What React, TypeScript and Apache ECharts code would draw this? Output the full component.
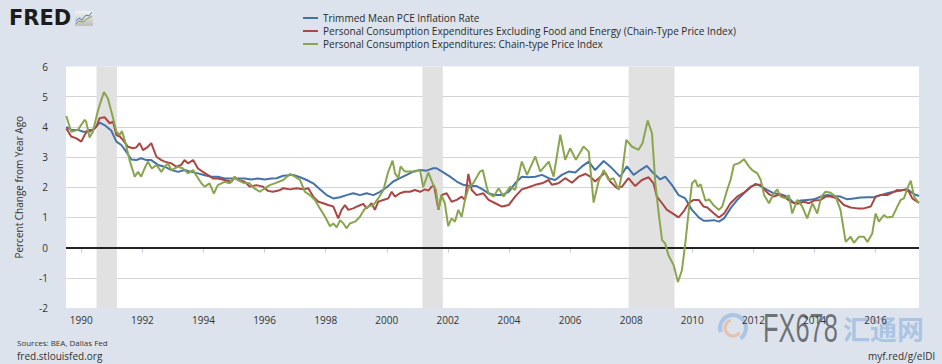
import React, { useEffect, useRef } from "react";
import * as echarts from "echarts";

const yearTicks = [1990, 1992, 1994, 1996, 1998, 2000, 2002, 2004, 2006, 2008, 2010, 2012, 2014, 2016];

const recessions: [number, number][] = [
  [1990.5, 1991.167],
  [2001.167, 2001.833],
  [2007.917, 2009.417],
];

const seriesNames = [
  "Trimmed Mean PCE Inflation Rate",
  "Personal Consumption Expenditures Excluding Food and Energy (Chain-Type Price Index)",
  "Personal Consumption Expenditures: Chain-type Price Index",
];

const trimmedMean: [number, number][] = [
  [1989.51, 4.0], [1989.67, 3.9], [1989.89, 3.9], [1990.06, 3.84], [1990.27, 3.84], [1990.44, 3.95],
  [1990.6, 4.14], [1990.76, 4.06], [1990.98, 3.88], [1991.15, 3.51], [1991.31, 3.4], [1991.47, 3.18],
  [1991.64, 2.92], [1991.8, 2.9], [1991.96, 2.96], [1992.13, 2.9], [1992.29, 2.9], [1992.51, 2.74],
  [1992.73, 2.68], [1992.95, 2.57], [1993.17, 2.51], [1993.38, 2.57], [1993.6, 2.51], [1993.82, 2.46],
  [1994.04, 2.4], [1994.26, 2.35], [1994.47, 2.35], [1994.69, 2.29], [1994.91, 2.29], [1995.13, 2.29],
  [1995.35, 2.29], [1995.57, 2.26], [1995.78, 2.29], [1996.0, 2.26], [1996.22, 2.29], [1996.39, 2.3],
  [1996.61, 2.38], [1996.94, 2.41], [1997.16, 2.33], [1997.38, 2.24], [1997.59, 2.13], [1997.81, 1.93],
  [1998.03, 1.74], [1998.25, 1.63], [1998.47, 1.67], [1998.68, 1.74], [1998.9, 1.8], [1999.12, 1.74],
  [1999.34, 1.8], [1999.56, 1.74], [1999.78, 1.85], [2000.0, 2.0], [2000.21, 2.19], [2000.43, 2.3],
  [2000.65, 2.41], [2000.87, 2.52], [2001.09, 2.57], [2001.3, 2.55], [2001.52, 2.63], [2001.63, 2.63],
  [2001.85, 2.49], [2002.07, 2.35], [2002.29, 2.19], [2002.5, 2.08], [2002.72, 2.04], [2002.94, 2.04],
  [2003.16, 1.91], [2003.33, 1.8], [2003.55, 1.74], [2003.77, 1.74], [2003.99, 1.85], [2004.2, 2.13],
  [2004.42, 2.35], [2004.64, 2.33], [2004.86, 2.35], [2005.08, 2.41], [2005.3, 2.3], [2005.51, 2.24],
  [2005.73, 2.41], [2005.95, 2.52], [2006.17, 2.49], [2006.39, 2.69], [2006.61, 2.85], [2006.82, 2.57],
  [2007.1, 2.87], [2007.31, 2.69], [2007.53, 2.46], [2007.64, 2.35], [2007.86, 2.69], [2008.08, 2.41],
  [2008.3, 2.57], [2008.51, 2.71], [2008.73, 2.46], [2008.95, 2.26], [2009.11, 2.35], [2009.33, 2.08],
  [2009.55, 1.74], [2009.77, 1.63], [2009.99, 1.25], [2010.21, 1.0], [2010.37, 0.89], [2010.49, 0.89],
  [2010.71, 0.91], [2010.87, 0.86], [2011.04, 0.97], [2011.25, 1.3], [2011.47, 1.58], [2011.69, 1.8],
  [2011.91, 2.0], [2012.07, 2.11], [2012.24, 2.04], [2012.45, 1.91], [2012.67, 1.8], [2012.89, 1.77],
  [2013.11, 1.69], [2013.33, 1.47], [2013.55, 1.56], [2013.76, 1.58], [2013.98, 1.6], [2014.2, 1.69],
  [2014.42, 1.74], [2014.64, 1.71], [2014.85, 1.69], [2015.07, 1.6], [2015.29, 1.63], [2015.51, 1.66],
  [2015.73, 1.67], [2015.95, 1.67], [2016.16, 1.74], [2016.38, 1.8], [2016.6, 1.85], [2016.82, 1.89],
  [2017.04, 1.93], [2017.26, 1.77], [2017.42, 1.71],
];

const corePce: [number, number][] = [
  [1989.51, 3.95], [1989.67, 3.68], [1989.84, 3.62], [1990.0, 3.51], [1990.11, 3.73], [1990.22, 3.9],
  [1990.38, 3.9], [1990.49, 4.0], [1990.6, 4.29], [1990.76, 4.32], [1990.93, 4.12], [1991.04, 4.17],
  [1991.15, 3.73], [1991.26, 3.68], [1991.36, 3.57], [1991.53, 3.34], [1991.69, 3.29], [1991.8, 3.32],
  [1991.91, 3.46], [1992.02, 3.23], [1992.18, 3.34], [1992.29, 3.46], [1992.46, 3.01], [1992.62, 2.9],
  [1992.73, 2.85], [1992.95, 2.79], [1993.11, 2.68], [1993.27, 2.74], [1993.38, 2.9], [1993.49, 2.79],
  [1993.66, 2.9], [1993.82, 2.62], [1993.98, 2.51], [1994.15, 2.4], [1994.31, 2.29], [1994.47, 2.29],
  [1994.69, 2.24], [1994.91, 2.18], [1995.02, 2.33], [1995.13, 2.24], [1995.35, 2.18], [1995.51, 2.02],
  [1995.73, 2.07], [1995.95, 2.02], [1996.11, 1.88], [1996.27, 1.85], [1996.49, 1.9], [1996.61, 1.97],
  [1996.83, 1.93], [1997.05, 1.97], [1997.27, 1.93], [1997.43, 1.97], [1997.59, 1.69], [1997.76, 1.52],
  [1997.92, 1.47], [1998.08, 1.41], [1998.25, 1.36], [1998.41, 0.97], [1998.52, 1.25], [1998.63, 1.41],
  [1998.74, 1.25], [1998.9, 1.3], [1999.07, 1.38], [1999.23, 1.45], [1999.34, 1.3], [1999.5, 1.47],
  [1999.61, 1.25], [1999.72, 1.52], [1999.89, 1.58], [2000.05, 1.63], [2000.16, 1.85], [2000.27, 1.69],
  [2000.43, 1.8], [2000.59, 1.85], [2000.76, 1.85], [2000.92, 1.91], [2001.09, 1.85], [2001.25, 1.93],
  [2001.36, 1.89], [2001.47, 2.02], [2001.55, 2.04], [2001.69, 1.25], [2001.79, 1.74], [2001.96, 1.8],
  [2002.12, 1.52], [2002.29, 1.58], [2002.45, 1.69], [2002.56, 1.58], [2002.67, 2.44], [2002.78, 1.91],
  [2002.94, 1.74], [2003.16, 1.8], [2003.33, 1.58], [2003.55, 1.47], [2003.77, 1.36], [2003.99, 1.41],
  [2004.2, 1.69], [2004.42, 1.93], [2004.64, 2.0], [2004.86, 2.08], [2005.08, 2.13], [2005.3, 2.24],
  [2005.4, 2.08], [2005.62, 2.13], [2005.84, 2.3], [2006.06, 2.15], [2006.28, 2.35], [2006.5, 2.44],
  [2006.66, 2.35], [2006.82, 2.19], [2006.99, 2.35], [2007.15, 2.49], [2007.31, 2.19], [2007.53, 1.97],
  [2007.7, 2.02], [2007.91, 2.3], [2008.13, 2.04], [2008.35, 2.24], [2008.57, 2.33], [2008.73, 2.13],
  [2008.84, 1.69], [2009.01, 1.47], [2009.17, 1.25], [2009.33, 1.15], [2009.55, 1.0], [2009.71, 1.19],
  [2009.88, 1.47], [2010.04, 1.58], [2010.21, 1.58], [2010.37, 1.36], [2010.49, 1.33], [2010.71, 1.13],
  [2010.87, 1.0], [2011.04, 1.13], [2011.25, 1.47], [2011.47, 1.69], [2011.69, 1.82], [2011.91, 2.02],
  [2012.07, 2.08], [2012.24, 2.08], [2012.35, 1.93], [2012.51, 1.77], [2012.67, 1.69], [2012.84, 1.76],
  [2013.0, 1.69], [2013.22, 1.52], [2013.44, 1.45], [2013.65, 1.52], [2013.82, 1.47], [2013.98, 1.56],
  [2014.2, 1.58], [2014.36, 1.69], [2014.53, 1.69], [2014.75, 1.63], [2014.96, 1.41], [2015.18, 1.33],
  [2015.4, 1.3], [2015.62, 1.3], [2015.84, 1.36], [2016.0, 1.69], [2016.16, 1.74], [2016.38, 1.74],
  [2016.6, 1.85], [2016.71, 1.91], [2016.82, 1.89], [2016.98, 1.93], [2017.09, 1.85], [2017.2, 1.63],
  [2017.36, 1.52], [2017.42, 1.5],
];

const headlinePce: [number, number][] = [
  [1989.51, 4.36], [1989.67, 3.84], [1989.89, 3.9], [1990.11, 4.23], [1990.16, 4.17], [1990.27, 3.65],
  [1990.38, 3.84], [1990.55, 4.56], [1990.74, 5.15], [1990.87, 4.95], [1991.04, 4.29], [1991.15, 3.84],
  [1991.26, 3.73], [1991.33, 3.86], [1991.42, 3.57], [1991.58, 2.9], [1991.75, 2.35], [1991.86, 2.51],
  [1991.96, 2.35], [1992.07, 2.62], [1992.18, 2.85], [1992.31, 2.62], [1992.46, 2.74], [1992.62, 2.51],
  [1992.73, 2.68], [1992.84, 2.79], [1992.95, 2.57], [1993.17, 2.68], [1993.33, 2.62], [1993.49, 2.46],
  [1993.66, 2.57], [1993.76, 2.4], [1993.93, 2.13], [1994.04, 2.02], [1994.2, 2.13], [1994.34, 1.79],
  [1994.47, 2.07], [1994.69, 2.18], [1994.86, 2.13], [1995.02, 2.35], [1995.13, 2.24], [1995.29, 2.15],
  [1995.51, 2.13], [1995.67, 1.96], [1995.84, 1.85], [1996.0, 1.96], [1996.17, 2.07], [1996.33, 2.13],
  [1996.61, 2.24], [1996.83, 2.44], [1996.99, 2.35], [1997.16, 2.24], [1997.32, 1.85], [1997.48, 1.74],
  [1997.65, 1.58], [1997.81, 1.3], [1997.98, 1.02], [1998.14, 0.71], [1998.25, 0.8], [1998.36, 0.67],
  [1998.47, 0.91], [1998.58, 0.8], [1998.68, 0.64], [1998.79, 0.8], [1998.96, 0.86], [1999.12, 1.02],
  [1999.25, 1.25], [1999.39, 1.36], [1999.56, 1.41], [1999.72, 1.63], [1999.89, 1.91], [2000.05, 2.52],
  [2000.19, 2.88], [2000.27, 2.46], [2000.38, 2.3], [2000.45, 2.69], [2000.59, 2.52], [2000.76, 2.52],
  [2000.92, 2.52], [2001.09, 2.57], [2001.19, 2.0], [2001.36, 2.49], [2001.5, 2.13], [2001.61, 1.91],
  [2001.69, 1.25], [2001.79, 1.74], [2001.9, 1.47], [2002.01, 0.71], [2002.12, 0.97], [2002.23, 0.86],
  [2002.34, 1.25], [2002.45, 1.02], [2002.56, 1.58], [2002.67, 1.97], [2002.83, 2.13], [2003.05, 2.52],
  [2003.14, 2.57], [2003.27, 2.02], [2003.33, 1.8], [2003.5, 1.69], [2003.66, 1.97], [2003.82, 1.69],
  [2004.04, 2.02], [2004.2, 1.91], [2004.42, 2.85], [2004.59, 2.41], [2004.86, 3.02], [2005.02, 2.52],
  [2005.3, 2.85], [2005.46, 2.35], [2005.68, 3.74], [2005.84, 2.91], [2006.0, 3.29], [2006.19, 2.91],
  [2006.44, 3.35], [2006.61, 3.18], [2006.77, 1.49], [2006.93, 2.19], [2007.1, 2.57], [2007.26, 2.24],
  [2007.42, 2.3], [2007.59, 1.91], [2007.7, 2.46], [2007.84, 3.57], [2008.02, 3.35], [2008.24, 3.24],
  [2008.37, 3.46], [2008.54, 4.21], [2008.68, 3.79], [2008.79, 2.13], [2008.9, 1.13], [2009.01, 0.25],
  [2009.11, 0.14], [2009.22, -0.25], [2009.39, -0.58], [2009.53, -1.14], [2009.66, -0.75], [2009.77, 0.14],
  [2009.88, 1.19], [2009.99, 2.13], [2010.1, 2.24], [2010.18, 2.02], [2010.27, 2.1], [2010.43, 1.55],
  [2010.55, 1.6], [2010.7, 1.4], [2010.87, 1.25], [2010.98, 1.36], [2011.14, 1.91], [2011.25, 2.24],
  [2011.36, 2.74], [2011.53, 2.8], [2011.69, 2.93], [2011.85, 2.69], [2011.96, 2.57], [2012.13, 2.46],
  [2012.24, 2.24], [2012.35, 1.74], [2012.51, 1.47], [2012.67, 1.8], [2012.78, 1.93], [2012.89, 1.69],
  [2013.05, 1.63], [2013.16, 1.74], [2013.27, 1.13], [2013.44, 1.58], [2013.6, 1.36], [2013.76, 0.97],
  [2013.93, 1.47], [2014.09, 1.13], [2014.22, 1.69], [2014.36, 1.85], [2014.53, 1.82], [2014.69, 1.69],
  [2014.85, 1.25], [2015.02, 0.19], [2015.18, 0.36], [2015.29, 0.16], [2015.45, 0.36], [2015.62, 0.36],
  [2015.73, 0.19], [2015.89, 0.47], [2016.0, 1.13], [2016.11, 0.86], [2016.27, 1.08], [2016.38, 1.0],
  [2016.55, 1.02], [2016.71, 1.36], [2016.82, 1.58], [2016.93, 1.63], [2017.04, 1.97], [2017.15, 2.22],
  [2017.26, 1.69], [2017.42, 1.47],
];

const COLORS = ["#4572a7", "#aa4643", "#89a54e"];
const FONT = '"Open Sans", "DejaVu Sans", sans-serif';

export default function App() {
  const ref = useRef<HTMLDivElement>(null);

  useEffect(() => {
    document.body.style.margin = "0";
    if (!ref.current) return;
    const chart = echarts.init(ref.current, undefined, { renderer: "svg" });

    const lineSeries = [trimmedMean, corePce, headlinePce].map((d, i) => ({
      name: seriesNames[i],
      type: "line",
      data: d,
      showSymbol: false,
      symbol: "none",
      lineStyle: { color: COLORS[i], width: 2 },
      itemStyle: { color: COLORS[i] },
      z: 3 + i,
    }));

    chart.setOption({
      animation: false,
      backgroundColor: "#dce3ec",
      textStyle: { fontFamily: FONT },
      grid: {
        left: 66,
        right: 23,
        top: 66.5,
        bottom: 56,
        show: true,
        backgroundColor: "#ffffff",
        borderWidth: 0,
      },
      legend: {
        data: seriesNames,
        orient: "vertical",
        left: 298,
        top: 8,
        itemGap: 3,
        itemWidth: 15,
        itemHeight: 2,
        icon: "rect",
        textStyle: { fontSize: 10, color: "#2b2b2b", fontFamily: FONT },
      },
      xAxis: {
        type: "value",
        min: 1989.5,
        max: 2017.42,
        splitLine: { show: false },
        axisLine: { show: true, lineStyle: { color: "#c3d0df", width: 1 } },
        axisTick: { show: true, customValues: yearTicks, length: 5, lineStyle: { color: "#c3d0df" } },
        axisLabel: {
          customValues: yearTicks,
          formatter: (v: number) => String(Math.round(v)),
          color: "#333",
          fontSize: 10,
          fontFamily: FONT,
          margin: 7,
        },
      },
      yAxis: {
        type: "value",
        min: -2,
        max: 6,
        interval: 1,
        axisLine: { show: false },
        axisTick: { show: false },
        splitLine: { show: true, showMinLine: false, showMaxLine: false, lineStyle: { color: "#d4d4d4", width: 1 } },
        axisLabel: { color: "#333", fontSize: 10, margin: 18, fontFamily: FONT },
        name: "Percent Change from Year Ago",
        nameLocation: "middle",
        nameGap: 42,
        nameTextStyle: { color: "#333", fontSize: 10, fontFamily: FONT },
      },
      series: [
        {
          name: "recessions",
          type: "line",
          data: [],
          z: 1,
          markArea: {
            silent: true,
            itemStyle: { color: "#e1e1e1" },
            data: recessions.map(([a, b]) => [{ xAxis: a }, { xAxis: b }]),
          },
          markLine: {
            silent: true,
            symbol: "none",
            label: { show: false },
            lineStyle: { color: "#222", width: 2, type: "solid" },
            data: [{ yAxis: 0 }],
          },
        },
        ...lineSeries,
      ],
      graphic: [
        {
          type: "text",
          x: 9,
          y: 18,
          style: { text: "FRED", font: 'bold 21px "DejaVu Sans"', fill: "#1c1c1c", verticalAlign: "middle" },
        },
        {
          type: "group",
          children: [
            {
              type: "rect",
              shape: { x: 75, y: 11, width: 18, height: 15 },
              style: {
                fill: new echarts.graphic.LinearGradient(0, 0, 0, 1, [
                  { offset: 0, color: "#f2f2f2" },
                  { offset: 1, color: "#bdbdbd" },
                ]),
              },
            },
            {
              type: "polyline",
              shape: { points: [[76, 21], [79, 18], [82, 20], [86, 15], [89, 16], [92, 12]] },
              style: { stroke: "#5a7fb0", lineWidth: 1, fill: null },
            },
            {
              type: "polyline",
              shape: { points: [[76, 24], [79, 21], [83, 22], [87, 19], [92, 16]] },
              style: { stroke: "#7ea04a", lineWidth: 1, fill: null },
            },
          ],
        },
        {
          type: "text",
          x: 17,
          y: 342,
          style: { text: "Sources: BEA, Dallas Fed", font: `8px ${FONT}`, fill: "#333", verticalAlign: "middle" },
        },
        {
          type: "text",
          x: 17,
          y: 356,
          style: { text: "fred.stlouisfed.org", font: `10px ${FONT}`, fill: "#333", verticalAlign: "middle" },
        },
        {
          type: "text",
          x: 935,
          y: 356,
          style: { text: "myf.red/g/eIDl", font: `10px ${FONT}`, fill: "#333", align: "right", verticalAlign: "middle" },
        },
        {
          type: "group",
          z: 100,
          children: [
            {
              type: "arc",
              shape: { cx: 733, cy: 328, r: 13, startAngle: Math.PI * 0.9, endAngle: Math.PI * 2.3 },
              style: { stroke: "#7ba7dc", lineWidth: 4, fill: null, opacity: 0.5 },
            },
            {
              type: "arc",
              shape: { cx: 733, cy: 328, r: 8, startAngle: Math.PI * 0.2, endAngle: Math.PI * 1.4 },
              style: { stroke: "#f0a070", lineWidth: 3, fill: null, opacity: 0.5 },
            },
            {
              type: "text",
              x: 763,
              y: 328,
              scaleX: 0.62,
              style: {
                text: "FX678",
                font: '41px "Liberation Sans"',
                fill: new echarts.graphic.LinearGradient(0, 0, 1, 0, [
                  { offset: 0, color: "#f6cf95" },
                  { offset: 1, color: "#ef9272" },
                ]),
                opacity: 0.5,
                verticalAlign: "middle",
              },
            },
            {
              type: "text",
              x: 843,
              y: 328,
              style: {
                text: "汇通网",
                font: 'bold 27px "Noto Sans CJK SC"',
                fill: "#7aa6dc",
                opacity: 0.5,
                verticalAlign: "middle",
              },
            },
          ],
        },
      ],
    });

    return () => chart.dispose();
  }, []);

  return <div ref={ref} style={{ width: 942, height: 364 }} />;
}
